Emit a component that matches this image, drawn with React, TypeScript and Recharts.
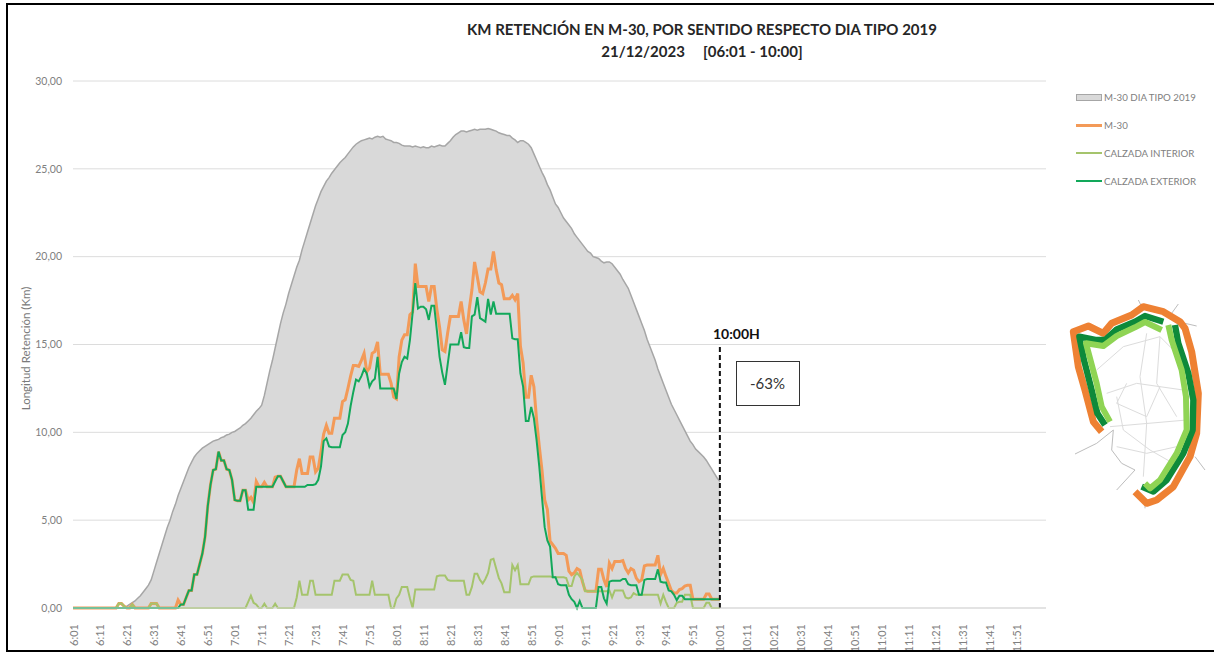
import React from "react"
import {
  ComposedChart,
  Area,
  Line,
  XAxis,
  YAxis,
  CartesianGrid,
  ReferenceLine,
  Legend,
  Label,
} from "recharts"

const FONT = "Lato, 'Open Sans', sans-serif"

// un punto por minuto, de 6:01 a 12:02
const minutes: string[] = []
for (let i = 0; i < 362; i++) {
  const t = 361 + i
  minutes.push(`${Math.floor(t / 60)}:${String(t % 60).padStart(2, "0")}`)
}

const tickLabels = [
  "6:01", "6:11", "6:21", "6:31", "6:41", "6:51",
  "7:01", "7:11", "7:21", "7:31", "7:41", "7:51",
  "8:01", "8:11", "8:21", "8:31", "8:41", "8:51",
  "9:01", "9:11", "9:21", "9:31", "9:41", "9:51",
  "10:01", "10:11", "10:21", "10:31", "10:41", "10:51",
  "11:01", "11:11", "11:21", "11:31", "11:41", "11:51",
]
const yTicks = [0, 5, 10, 15, 20, 25, 30]

const diaTipo = [
  0, 0, 0, 0, 0, 0, 0, 0, 0, 0,
  0, 0, 0, 0, 0, 0, 0, 0, 0, 0.02,
  0.1, 0.2, 0.3, 0.4, 0.55, 0.7, 0.9, 1.1, 1.3, 1.6,
  2.1, 2.6, 3.1, 3.6, 4.1, 4.6, 5, 5.5, 5.9, 6.4,
  6.8, 7.2, 7.6, 8, 8.3, 8.6, 8.8, 8.95, 9.1, 9.2,
  9.3, 9.4, 9.5, 9.55, 9.6, 9.7, 9.75, 9.85, 9.9, 10,
  10.05, 10.15, 10.25, 10.4, 10.5, 10.65, 10.8, 11, 11.2, 11.35,
  11.55, 12.1, 12.8, 13.5, 14.1, 14.8, 15.5, 16.2, 16.8, 17.3,
  17.9, 18.4, 18.9, 19.4, 19.8, 20.4, 20.9, 21.4, 21.9, 22.4,
  22.9, 23.3, 23.7, 24, 24.3, 24.5, 24.75, 24.95, 25.15, 25.35,
  25.5, 25.65, 25.85, 26.05, 26.25, 26.4, 26.5, 26.6, 26.65, 26.7,
  26.75, 26.7, 26.8, 26.85, 26.8, 26.85, 26.7, 26.65, 26.6, 26.5,
  26.5, 26.45, 26.35, 26.3, 26.3, 26.3, 26.25, 26.3, 26.25, 26.2,
  26.25, 26.2, 26.2, 26.3, 26.25, 26.3, 26.35, 26.3, 26.3, 26.45,
  26.6, 26.8, 26.95, 27.05, 27.15, 27.15, 27.1, 27.15, 27.2, 27.25,
  27.2, 27.25, 27.25, 27.25, 27.3, 27.25, 27.2, 27.15, 27.05, 27,
  26.95, 26.9, 26.9, 26.75, 26.65, 26.5, 26.6, 26.6, 26.5, 26.4,
  26.2, 25.85, 25.5, 25.15, 24.8, 24.5, 24.1, 23.8, 23.4, 23,
  22.8, 22.5, 22.2, 22, 21.8, 21.6, 21.3, 21.1, 20.9, 20.7,
  20.5, 20.3, 20.2, 20, 19.95, 19.9, 19.75, 19.65, 19.7, 19.7,
  19.6, 19.4, 19.2, 19, 18.7, 18.45, 18.2, 17.8, 17.4, 17,
  16.6, 16.2, 15.8, 15.3, 14.9, 14.5, 14.1, 13.6, 13.2, 12.8,
  12.4, 12, 11.6, 11.3, 11, 10.7, 10.4, 10.1, 9.8, 9.5,
  9.3, 9.05, 8.9, 8.75, 8.6, 8.4, 8.15, 7.9, 7.65, 7.4,
  7.2,
]

const m30 = [
  0, 0, 0, 0, 0, 0, 0, 0, 0, 0,
  0, 0, 0, 0, 0, 0, 0, 0.25, 0.25, 0.1,
  0, 0, 0.2, 0, 0, 0, 0, 0, 0, 0.25,
  0.25, 0.25, 0, 0, 0, 0, 0, 0, 0, 0.45,
  0.2, 0.2, 0.6, 1, 1, 1.9, 1.9, 2.5, 3.1, 4.05,
  5.8, 7, 7.85, 7.9, 8.9, 8.4, 8.4, 7.9, 7.85, 7.3,
  6.15, 6.1, 6.1, 6.7, 6.7, 6.15, 6.3, 6, 7.2, 6.9,
  6.9, 7.15, 6.9, 6.9, 6.9, 7.45, 7.5, 7.5, 7.2, 6.9,
  6.9, 6.9, 6.9, 7.85, 8.5, 7.65, 7.65, 7.65, 8.6, 8.6,
  7.75, 7.95, 8.9, 9.9, 10.4, 9.95, 9.95, 10.8, 10.8, 10.8,
  11.75, 11.85, 12.5, 13.2, 13.8, 13.8, 13.75, 14.1, 14.5, 13.45,
  13.65, 14.5, 14.6, 15.15, 13.3, 13.3, 13.3, 13.3, 12.8, 12,
  11.9, 14.3, 15.25, 15.55, 15.55, 16.7, 16.85, 19.6, 18.3, 18.3,
  18.3, 18.3, 17.45, 18.3, 18.3, 17, 16, 14.7, 14.6, 15.65,
  16.6, 16.6, 16.6, 16.6, 17.45, 16.4, 15.6, 17, 18.1, 19.7,
  18.85, 18, 17.9, 18.5, 19.3, 19.3, 20.3, 19.25, 18.5, 18.4,
  17.6, 17.6, 17.6, 17.8, 17.55, 17.9, 14.9, 13.95, 12, 12,
  13.25, 12.6, 10.7, 9.2, 7.85, 6.15, 5.6, 3.8, 3.6, 3.4,
  3.1, 3.1, 3.1, 3, 2.1, 1.9, 2, 2.25, 2.15, 1.5,
  1, 0.95, 0.95, 0.95, 0.95, 2.2, 2.2, 1.6, 1.2, 2.55,
  2.25, 2.65, 2.65, 2.65, 2.7, 2.25, 2, 2.25, 2.15, 1.7,
  1.5, 1.6, 2.4, 2.45, 2.45, 2.45, 2.45, 3, 1.9, 2.25,
  1.8, 1.4, 1, 0.85, 0.85, 1.05, 1.1, 1.25, 1.3, 1.3,
  0.5, 0.5, 0.5, 0.5, 0.5, 0.8, 0.8, 0.5, 0.5, 0.5,
  0.5,
]

const interior = [
  0, 0, 0, 0, 0, 0, 0, 0, 0, 0,
  0, 0, 0, 0, 0, 0, 0, 0.25, 0.25, 0.1,
  0, 0, 0.2, 0, 0, 0, 0, 0, 0, 0.25,
  0.25, 0.25, 0, 0, 0, 0, 0, 0, 0, 0,
  0, 0, 0, 0, 0, 0, 0, 0, 0, 0,
  0, 0, 0, 0, 0, 0, 0, 0, 0, 0,
  0, 0, 0, 0, 0, 0.35, 0.7, 0.3, 0.2, 0,
  0, 0.25, 0, 0, 0, 0.25, 0, 0, 0, 0,
  0, 0, 0, 0.6, 1.55, 0.75, 0.75, 0.75, 1.55, 1.55,
  0.75, 0.75, 0.75, 0.75, 0.75, 0.75, 0.75, 1.55, 1.55, 1.55,
  1.9, 1.9, 1.9, 1.6, 1.55, 0.75, 0.75, 0.75, 0.75, 0.75,
  0.75, 1.55, 0.75, 0.75, 0.75, 0.75, 0.75, 0.75, 0, 0,
  0.55, 0.75, 1.2, 1.2, 1.2, 0.55, 0, 1.05, 1.05, 1.05,
  1.05, 1.05, 1.05, 1.05, 1.05, 1.8, 1.85, 1.85, 1.85, 1.6,
  1.55, 1.55, 1.55, 1.55, 1.55, 1.55, 0.75, 0.75, 1.2, 1.95,
  1.95, 1.6, 1.4, 1.65, 2, 2.75, 2.8, 2.25, 1.7, 1.4,
  0.9, 0.9, 0.9, 2.45, 2.15, 2.45, 1.35, 1.35, 1.35, 1.35,
  1.75, 1.8, 1.8, 1.8, 1.8, 1.8, 1.8, 1.8, 1.75, 1.75,
  1.75, 1.75, 1.75, 1.7, 1.25, 1.25, 1.8, 2, 1.8, 1.6,
  0.95, 0.95, 0.95, 0.95, 0.95, 0.95, 0.95, 0.95, 0.95, 1,
  0.6, 1, 1, 1, 1, 0.6, 0.55, 0.6, 0.85, 0.75,
  0.75, 0.75, 0.75, 0.75, 0.75, 0.75, 0.75, 0.75, 0.25, 0.75,
  0.35, 0, 0, 0, 0.3, 0.35, 0.35, 0.75, 0.75, 0.75,
  0, 0, 0, 0, 0, 0.3, 0.3, 0, 0, 0,
  0,
]

const exterior = [
  0, 0, 0, 0, 0, 0, 0, 0, 0, 0,
  0, 0, 0, 0, 0, 0, 0, 0, 0, 0,
  0, 0, 0, 0, 0, 0, 0, 0, 0, 0,
  0, 0, 0, 0, 0, 0, 0, 0, 0, 0,
  0.2, 0.2, 0.6, 1, 1, 1.9, 1.9, 2.5, 3.1, 4.05,
  5.8, 7, 7.85, 7.9, 8.9, 8.4, 8.4, 7.9, 7.85, 7.3,
  6.15, 6.1, 6.1, 6.7, 6.7, 5.6, 5.6, 5.6, 6.9, 6.9,
  6.9, 6.9, 6.9, 6.9, 6.9, 7.2, 7.5, 7.5, 7.2, 6.9,
  6.9, 6.9, 6.9, 6.9, 6.9, 6.9, 6.9, 7, 7, 7,
  7.05, 7.3, 8.05, 9.5, 9.66, 9.2, 9.15, 9.15, 9.15, 9.15,
  9.85, 10, 10.5, 11.5, 12.3, 13, 12.9, 13.2, 13.6, 13.35,
  12.6, 12.9, 13.05, 14.3, 12.5, 12.5, 12.5, 12.5, 12.5, 12.5,
  11.9, 13.35, 14, 14.3, 14.2, 15.25, 16.8, 18.5, 17.05, 17.15,
  17.15, 17, 16.4, 17.2, 17.2, 15.8, 14.3, 13.4, 12.7, 13.85,
  15, 15, 15, 15, 15.7, 14.85, 14.8, 14.8, 16.6, 16.7,
  17.7, 16.5, 16.4, 16.3, 17.6, 16.7, 17.45, 16.75, 16.75, 16.75,
  16.75, 16.75, 16.75, 15.35, 15.3, 15.3, 13.35, 12.6, 10.65, 10.65,
  11.45, 10.8, 9.55, 8.05, 6.3, 4.6, 3.85, 3.5, 1.75, 1.75,
  1.35, 1.3, 1.3, 1.3, 0.75, 0.5, 0.35, 0, 0.4, 0,
  0, 0, 0, 0, 0, 1.2, 1.2, 0.55, 0.25, 1.5,
  1.55, 1.55, 1.55, 1.55, 1.65, 1.65, 1.35, 1.3, 1.3, 1.3,
  0.75, 0.75, 1.6, 1.65, 1.65, 1.65, 1.65, 2.2, 1.5, 1.45,
  1.45, 1, 0.95, 0.75, 0.45, 0.7, 0.7, 0.5, 0.5, 0.5,
  0.5, 0.5, 0.5, 0.5, 0.5, 0.5, 0.5, 0.5, 0.5, 0.5,
  0.5,
]

const chartData = minutes.map((name, i) => ({
  name,
  diaTipo: diaTipo[i],
  m30: m30[i],
  interior: interior[i],
  exterior: exterior[i],
}))

const legendItems = [
  { label: "M-30 DIA TIPO 2019", color: "#d9d9d9", border: "#a6a6a6", h: 7 },
  { label: "M-30", color: "#f39a58", h: 3 },
  { label: "CALZADA INTERIOR", color: "#a5c46c", h: 2 },
  { label: "CALZADA EXTERIOR", color: "#12a85a", h: 2 },
]

const ChartLegend = () => (
  <div style={{ fontFamily: FONT, fontSize: 9.7, color: "#808080" }}>
    {legendItems.map((it) => (
      <div key={it.label} style={{ height: 28, display: "flex", alignItems: "center", whiteSpace: "nowrap" }}>
        <span
          style={{
            display: "inline-block",
            boxSizing: "border-box",
            width: 26,
            height: it.h,
            marginRight: 2,
            background: it.color,
            border: it.border ? `1px solid ${it.border}` : undefined,
          }}
        />
        {it.label}
      </div>
    ))}
  </div>
)

const XTick = ({ x, y, payload }: any) => (
  <text
    x={x}
    y={y + 8}
    transform={`rotate(-90 ${x} ${y + 8})`}
    textAnchor="end"
    dominantBaseline="central"
    fontFamily={FONT}
    fontSize={11}
    fill="#7f7f7f"
  >
    {payload.value}
  </text>
)

// esquema de la M-30, solo decorativo
const RoadMap = () => (
  <svg width={150} height={220} viewBox="0 0 450 660" style={{ position: "absolute", left: 1060, top: 290 }}>
    <g fill="none" stroke="#dcdcdc" strokeWidth={3}>
      <path d="M110 240 L190 170 L300 140 L340 180" />
      <path d="M140 310 L230 280 L370 300" />
      <path d="M170 320 L190 420 L270 480 L340 520" />
      <path d="M260 130 L240 260 L260 400 L250 560" />
      <path d="M150 410 L380 390" />
      <path d="M300 140 L290 280 L350 380" />
      <path d="M170 470 L260 490 L350 470" />
      <path d="M200 280 L170 340 L260 380 L300 290" />
    </g>
    <g fill="none" stroke="#bdbdbd" strokeWidth={3}>
      <path d="M45 492 L110 460 L160 420 L155 480 L185 520 L225 540 L170 600" />
      <path d="M235 30 L245 50 M355 42 L335 70 M375 100 L410 108 M405 500 L435 540 M255 640 L255 655" />
    </g>
    <g fill="none" strokeLinejoin="round">
      <path stroke="#ee8133" strokeWidth={21} d="M125 425 L100 395 L75 300 L55 230 L40 125 L85 108 L130 130 L155 100 L215 75 L250 50 L310 65 L360 95 L375 115 L395 185 L415 310 L410 430 L390 500 L340 590 L290 630 L260 640 L225 605" />
      <path stroke="#0e8a3a" strokeWidth={19} d="M135 405 L112 370 L95 300 L72 210 L58 140 L110 150 L135 150 L170 118 L225 95 L255 78 L310 95" />
      <path stroke="#0e8a3a" strokeWidth={19} d="M345 105 L355 160 L385 250 L400 330 L398 420 L370 490 L320 570 L280 605 L245 590" />
      <path stroke="#8fd454" strokeWidth={18} d="M150 395 L125 350 L110 280 L90 205 L78 160 L130 168 L170 138 L225 112 L255 96 L305 120" />
      <path stroke="#8fd454" strokeWidth={18} d="M325 105 L335 150 L365 240 L378 320 L380 420 L350 490 L300 570 L270 595 L255 580" />
    </g>
  </svg>
)

export default function App() {
  return (
    <div style={{ position: "absolute", left: 0, top: 0, width: 1214, height: 652, background: "#fff", overflow: "hidden" }}>
      <ComposedChart
        width={1214}
        height={652}
        data={chartData}
        margin={{ top: 81, right: 38, bottom: 0, left: 0 }}
      >
        <CartesianGrid vertical={false} stroke="#dcdcdc" />
        <XAxis
          dataKey="name"
          scale="point"
          padding={{ left: 0, right: 0 }}
          ticks={tickLabels}
          interval={0}
          height={44}
          tickLine={false}
          axisLine={{ stroke: "#d9d9d9" }}
          tick={<XTick />}
        />
        <YAxis
          domain={[0, 30]}
          ticks={yTicks}
          width={73}
          tickLine={false}
          axisLine={false}
          tickSize={9}
          tick={{ fontFamily: FONT, fontSize: 10.5, fill: "#808080" }}
          tickFormatter={(v: number) => v.toFixed(2).replace(".", ",")}
        >
          <Label
            value="Longitud Retención (Km)"
            angle={-90}
            position="insideLeft"
            offset={26}
            dy={4}
            style={{ textAnchor: "middle", fontFamily: FONT, fontSize: 11.5, fill: "#7a7a7a" }}
          />
        </YAxis>
        <Legend
          content={<ChartLegend />}
          layout="vertical"
          align="right"
          verticalAlign="top"
          wrapperStyle={{ left: 1076, top: 83, width: 130 }}
        />
        <Area
          dataKey="diaTipo"
          name="M-30 DIA TIPO 2019"
          type="linear"
          fill="#d9d9d9"
          fillOpacity={1}
          stroke="#a6a6a6"
          strokeWidth={1.5}
          dot={false}
          activeDot={false}
          isAnimationActive={false}
        />
        <Line dataKey="m30" name="M-30" type="linear" stroke="#f39a58" strokeWidth={3} dot={false} activeDot={false} isAnimationActive={false} />
        <Line dataKey="interior" name="CALZADA INTERIOR" type="linear" stroke="#a5c46c" strokeWidth={2} dot={false} activeDot={false} isAnimationActive={false} />
        <Line dataKey="exterior" name="CALZADA EXTERIOR" type="linear" stroke="#12a85a" strokeWidth={2} dot={false} activeDot={false} isAnimationActive={false} />
        <ReferenceLine
          segment={[{ x: "10:01", y: 0 }, { x: "10:01", y: 15 }]}
          stroke="#111"
          strokeWidth={2}
          strokeDasharray="5 3"
        />
      </ComposedChart>

      <div style={{ position: "absolute", left: 402, top: 18, width: 600, textAlign: "center", fontFamily: FONT, fontWeight: 700, fontSize: 15, lineHeight: "22px", color: "#262626" }}>
        KM RETENCIÓN EN M-30, POR SENTIDO RESPECTO DIA TIPO 2019
        <br />
        21/12/2023 &nbsp;&nbsp;&nbsp;&nbsp;[06:01 - 10:00]
      </div>
      <div style={{ position: "absolute", left: 713, top: 325, fontFamily: FONT, fontWeight: 700, fontSize: 14, color: "#111" }}>10:00H</div>
      <div style={{ position: "absolute", left: 736, top: 361, width: 64, height: 45, boxSizing: "border-box", border: "1.5px solid #333", fontFamily: FONT, fontSize: 15, color: "#333", lineHeight: "42px", paddingLeft: 13, background: "#fff" }}>-63%</div>
      <RoadMap />
      <div style={{ position: "absolute", left: 6, top: 3, width: 1230, height: 649, boxSizing: "border-box", border: "2px solid #000", pointerEvents: "none" }} />
    </div>
  )
}
